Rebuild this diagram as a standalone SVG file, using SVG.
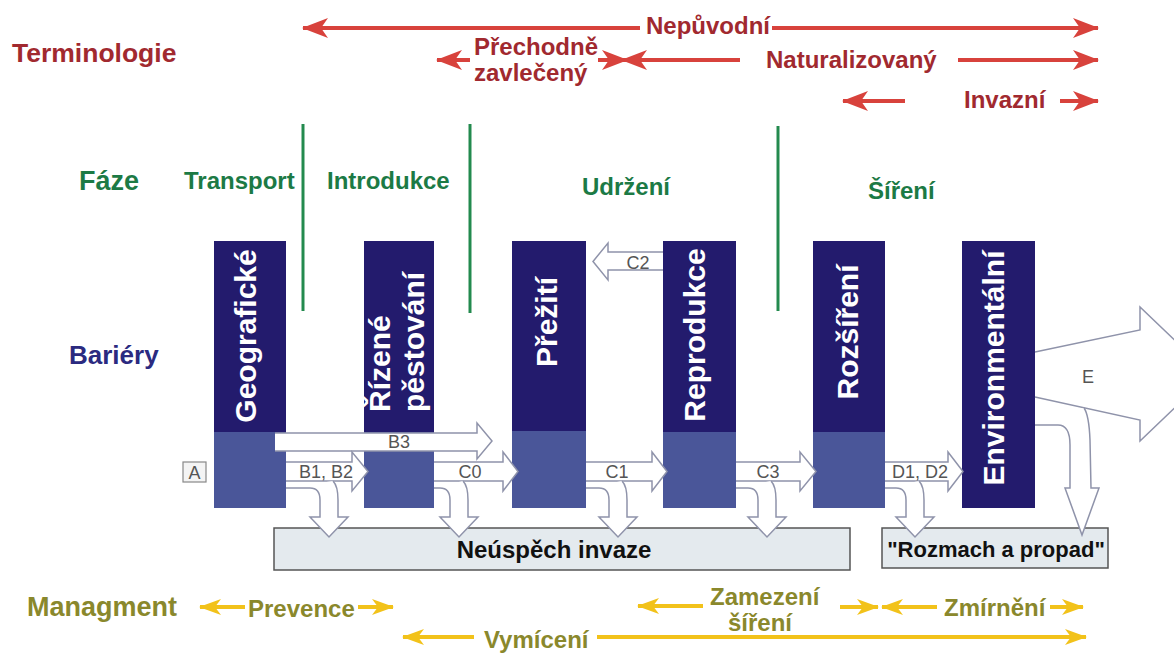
<svg xmlns="http://www.w3.org/2000/svg" width="1174" height="653" viewBox="0 0 1174 653">
<style>
text{font-family:"Liberation Sans",Arial,sans-serif}
.term{fill:#a1292f;font-weight:bold;font-size:24px}
.phase{fill:#1c7a45;font-weight:bold;font-size:24px}
.bar{fill:#231b6d}
.barlo{fill:#4a5699}
.bt{fill:#fff;font-weight:bold;font-size:30px}
.blk{fill:#fff;stroke:#8f93aa;stroke-width:1.5;stroke-linejoin:miter}
.lbl{fill:#555;font-size:18px;text-anchor:middle}
.box{fill:#e4eaee;stroke:#555;stroke-width:1.5}
.boxt{fill:#111;font-weight:bold;font-size:24px;text-anchor:middle}
.mg{fill:#8a882c;font-weight:bold;font-size:24px}
.rl{stroke:#d8423c;stroke-width:4;fill:none}
.yl{stroke:#f2c21a;stroke-width:4;fill:none}
.gl{stroke:#238a4e;stroke-width:3}
</style>
<defs>
<marker id="ar" markerUnits="userSpaceOnUse" markerWidth="26" markerHeight="20" viewBox="0 0 26 20" refX="25" refY="10" orient="auto-start-reverse"><path d="M0,0 L26,10 L0,20 L7,10 Z" fill="#d8423c"/></marker>
<marker id="ay" markerUnits="userSpaceOnUse" markerWidth="22" markerHeight="16" viewBox="0 0 22 16" refX="21" refY="8" orient="auto-start-reverse"><path d="M0,0 L22,8 L0,16 L6,8 Z" fill="#f2c21a"/></marker>
</defs>
<rect width="1174" height="653" fill="#fff"/>

<g id="terminology">
<text class="term" x="12" y="62" style="font-size:26.5px">Terminologie</text>
<text class="term" x="646" y="34">Nepůvodní</text>
<text class="term" x="474" y="55">Přechodně</text>
<text class="term" x="474" y="81">zavlečený</text>
<text class="term" x="766" y="68">Naturalizovaný</text>
<text class="term" x="964" y="108">Invazní</text>
</g>

<g id="phases">
<text class="phase" x="79" y="190" style="font-size:27px">Fáze</text>
<text class="phase" x="184" y="189">Transport</text>
<text class="phase" x="327" y="189">Introdukce</text>
<text class="phase" x="582" y="195">Udržení</text>
<text class="phase" x="868" y="199">Šíření</text>
<line class="gl" x1="303" y1="124" x2="303" y2="311"/>
<line class="gl" x1="470" y1="124" x2="470" y2="313"/>
<line class="gl" x1="778" y1="126" x2="778" y2="311"/>
</g>

<text id="bariery-label" x="69" y="364" fill="#2b2a80" font-weight="bold" font-size="26">Bariéry</text>

<g id="bar-geograficke">
<rect class="bar" x="214" y="241" width="72" height="267"/>
<rect class="barlo" x="214" y="432" width="72" height="76"/>
<text class="bt" text-anchor="middle" transform="translate(256,336) rotate(-90)">Geografické</text>
</g>
<g id="bar-rizene">
<rect class="bar" x="364" y="241" width="70" height="267"/>
<rect class="barlo" x="364" y="432" width="70" height="76"/>
<text class="bt" transform="translate(390,412) rotate(-90)">Řízené</text>
<text class="bt" transform="translate(424,412) rotate(-90)">pěstování</text>
</g>
<g id="bar-preziti">
<rect class="bar" x="512" y="241" width="74" height="267"/>
<rect class="barlo" x="512" y="431" width="74" height="77"/>
<text class="bt" text-anchor="middle" transform="translate(557,322) rotate(-90)">Přežití</text>
</g>
<g id="bar-reprodukce">
<rect class="bar" x="663" y="241" width="73" height="267"/>
<rect class="barlo" x="663" y="432" width="73" height="76"/>
<text class="bt" text-anchor="middle" transform="translate(705,335) rotate(-90)">Reprodukce</text>
</g>
<g id="bar-rozsireni">
<rect class="bar" x="813" y="241" width="72" height="267"/>
<rect class="barlo" x="813" y="432" width="72" height="76"/>
<text class="bt" text-anchor="middle" transform="translate(858,332) rotate(-90)">Rozšíření</text>
</g>
<g id="bar-environmentalni">
<rect class="bar" x="962" y="241" width="73" height="267"/>
<text class="bt" text-anchor="middle" transform="translate(1004,368) rotate(-90)">Environmentální</text>
</g>

<g id="box-neuspech">
<rect class="box" x="274" y="528" width="576" height="42"/>
<text class="boxt" x="554" y="558">Neúspěch invaze</text>
</g>
<g id="box-rozmach">
<rect class="box" x="882" y="528" width="226" height="40"/>
<text class="boxt" x="996" y="557" style="font-size:22px">"Rozmach a propad"</text>
</g>
<g id="box-a">
<rect x="183" y="462" width="23" height="20" fill="#f4f4f4" stroke="#888" stroke-width="1.2"/>
<text x="194.5" y="479" fill="#555" font-size="18" text-anchor="middle">A</text>
</g>

<g id="connectors">
<line class="rl" x1="303" y1="28" x2="640" y2="28" marker-start="url(#ar)"/>
<line class="rl" x1="772" y1="28" x2="1098" y2="28" marker-end="url(#ar)"/>
<line class="rl" x1="437" y1="60" x2="470" y2="60" marker-start="url(#ar)"/>
<line class="rl" x1="598" y1="60" x2="627" y2="60" marker-end="url(#ar)"/>
<line class="rl" x1="622" y1="60" x2="740" y2="60" marker-start="url(#ar)"/>
<line class="rl" x1="958" y1="60" x2="1098" y2="60" marker-end="url(#ar)"/>
<line class="rl" x1="843" y1="101" x2="905" y2="101" marker-start="url(#ar)"/>
<line class="rl" x1="1060" y1="101" x2="1098" y2="101" marker-end="url(#ar)"/>

<path class="blk" d="M275,433 L477,433 L477,423 L492,441 L477,459 L477,451 L275,451"/>
<path class="blk" d="M286,462 L352,462 L352,452 L368,471.5 L352,491 L352,481 L286,481"/>
<path class="blk" d="M434,462 L503,462 L503,452 L518,471.5 L503,491 L503,481 L434,481"/>
<path class="blk" d="M586,462 L652,462 L652,452 L667,471.5 L652,491 L652,481 L586,481"/>
<path class="blk" d="M736,462 L800,462 L800,452 L816,471.5 L800,491 L800,481 L736,481"/>
<path class="blk" d="M885,462 L948,462 L948,452 L963,471.5 L948,491 L948,481 L885,481"/>
<path class="blk" d="M663,252 L608,252 L608,243 L593,261.5 L608,280 L608,270 L663,270"/>
<path class="blk" d="M1035,352 L1140,330 L1140,307 L1210,374 L1140,441 L1140,420 L1035,397"/>

<path class="blk" d="M286,488 L310,488 Q320,488 320,500 L320,517 L310,517 L329,537 L348,517 L338,517 L338,500 Q338,486 333,481"/>
<path class="blk" d="M434,488 L440,488 Q450,488 450,500 L450,517 L440,517 L459,537 L478,517 L468,517 L468,500 Q468,486 463,481"/>
<path class="blk" d="M586,488 L599,488 Q609,488 609,500 L609,517 L599,517 L618,537 L637,517 L627,517 L627,500 Q627,486 622,481"/>
<path class="blk" d="M736,488 L748,488 Q758,488 758,500 L758,517 L748,517 L767,537 L786,517 L776,517 L776,500 Q776,486 771,481"/>
<path class="blk" d="M885,488 L896,488 Q906,488 906,500 L906,517 L896,517 L915,537 L934,517 L924,517 L924,500 Q924,486 919,481"/>
<path class="blk" d="M1035,425 L1058,425 Q1070,425 1070,445 L1070,488 L1065,488 L1082,535 L1099,488 L1091,488 L1090,440 Q1089,415 1084,408"/>

<text class="lbl" x="399" y="448">B3</text>
<text class="lbl" x="326" y="478">B1, B2</text>
<text class="lbl" x="470" y="478">C0</text>
<text class="lbl" x="617" y="478">C1</text>
<text class="lbl" x="768" y="478">C3</text>
<text class="lbl" x="920" y="478">D1, D2</text>
<text class="lbl" x="638" y="269">C2</text>
<text class="lbl" x="1088" y="383">E</text>

<line class="yl" x1="200" y1="607" x2="245" y2="607" marker-start="url(#ay)"/>
<line class="yl" x1="358" y1="607" x2="393" y2="607" marker-end="url(#ay)"/>
<line class="yl" x1="638" y1="606" x2="703" y2="606" marker-start="url(#ay)"/>
<line class="yl" x1="840" y1="607" x2="878" y2="607" marker-end="url(#ay)"/>
<line class="yl" x1="882" y1="607" x2="937" y2="607" marker-start="url(#ay)"/>
<line class="yl" x1="1050" y1="607" x2="1083" y2="607" marker-end="url(#ay)"/>
<line class="yl" x1="403" y1="637" x2="474" y2="637" marker-start="url(#ay)"/>
<line class="yl" x1="597" y1="637" x2="1086" y2="637" marker-end="url(#ay)"/>
</g>

<g id="management">
<text class="mg" x="27" y="616" style="font-size:27px">Managment</text>
<text class="mg" x="248" y="617">Prevence</text>
<text class="mg" x="710" y="605">Zamezení</text>
<text class="mg" x="728" y="631">šíření</text>
<text class="mg" x="944" y="616">Zmírnění</text>
<text class="mg" x="484" y="648">Vymícení</text>
</g>
</svg>
